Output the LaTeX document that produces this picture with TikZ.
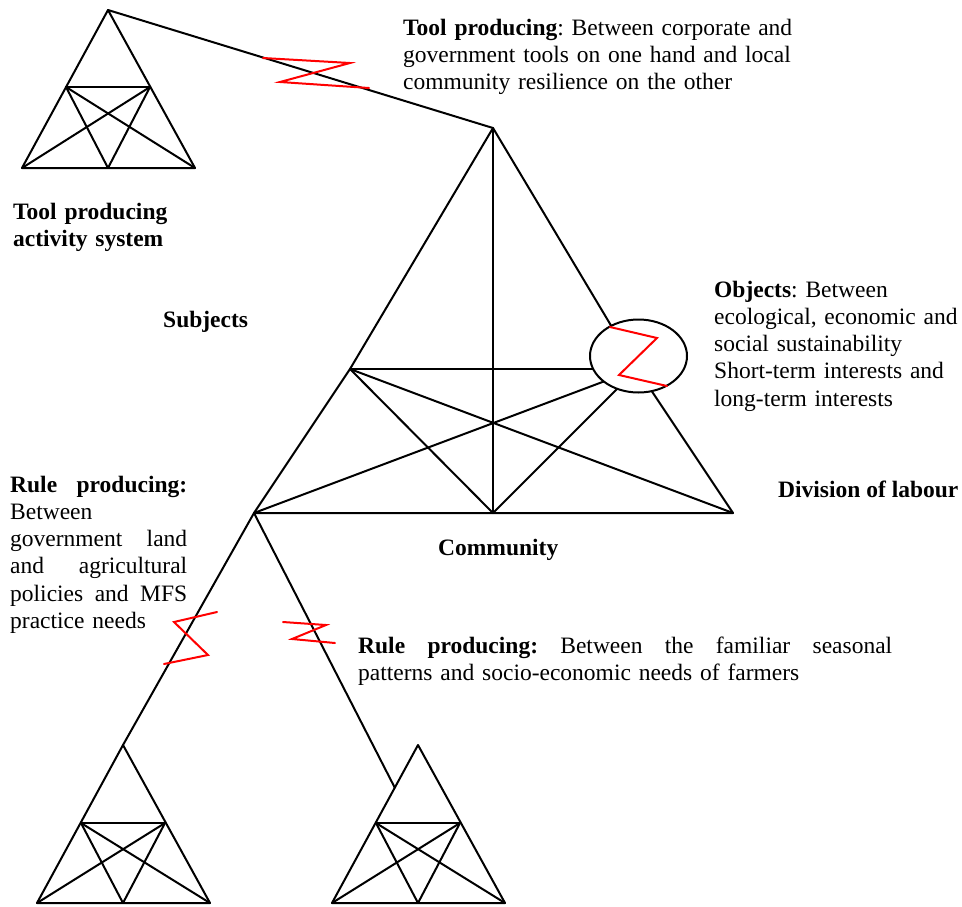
\documentclass[tikz,border=0pt]{standalone}
\usepackage{fontspec}
\setmainfont{Liberation Serif}
\usepackage{tkz-euclide}
\usetikzlibrary{calc}

\tikzset{
  lbl/.style={inner sep=0pt,anchor=base west,align=left,
    font=\fontsize{23.5}{27.3}\selectfont\frenchspacing},
  edge/.style={color=black,line width=2pt,line join=round},
  zig/.style={color=red,line width=2pt}
}

\begin{document}
\begin{tikzpicture}[x=1pt,y=-1pt]
\useasboundingbox (0,0) rectangle (962,906);

% central activity system
\tkzDefPoints{493/128/Ma,254/513/Ml,733/513/Mr,493/513/Mm,350/369/Mp,637/369/Mq}
\tkzDrawPolygon[edge](Ma,Mq,Mr,Ml,Mp)
\tkzDrawSegments[edge](Mp,Mq Ma,Mm Mp,Mr Mq,Ml Mp,Mm Mq,Mm)

% tool producing system
\tkzDefPoints{108/10/Ta,22/168/Tl,195/168/Tr,108/168/Tm,66/87/Tp,150/87/Tq}
\tkzDrawPolygon[edge](Ta,Tr,Tl)
\tkzDrawSegments[edge](Tp,Tq Tp,Tr Tq,Tl Tp,Tm Tq,Tm)

% rule producing systems
\tkzDefPoints{123/745/La,37/903/Ll,210/903/Lr,123/903/Lm,81/823/Lp,165/823/Lq}
\tkzDrawPolygon[edge](La,Lr,Ll)
\tkzDrawSegments[edge](Lp,Lq Lp,Lr Lq,Ll Lp,Lm Lq,Lm)

\tkzDefPoints{418/745/Ra,332/903/Rl,505/903/Rr,418/903/Rm,376/823/Rp,460/823/Rq}
\tkzDrawPolygon[edge](Ra,Rr,Rl)
\tkzDrawSegments[edge](Rp,Rq Rp,Rr Rq,Rl Rp,Rm Rq,Rm)

% links between the systems
\coordinate (Rk) at ($(Ra)!.27!(Rl)$);
\tkzDrawSegments[edge](Ta,Ma Ml,La Ml,Rk)

% objects
\tkzDefPoint(638.5,356){O}
\draw[edge,fill=white] (O) ellipse (48.5 and 36.5);

% contradictions
\tkzDefPoints{263/58/z1,350/63/z2,280/82/z3,369/88/z4}
\tkzDrawPolySeg[zig](z1,z2,z3,z4)
\tkzDefPoints{610/327/o1,657/338/o2,619/375/o3,667/386/o4}
\tkzDrawPolySeg[zig](o1,o2,o3,o4)
\tkzDefPoints{217/612/r1,174/622/r2,208/655/r3,164/664/r4}
\tkzDrawPolySeg[zig](r1,r2,r3,r4)
\tkzDefPoints{283/622/s1,326/625/s2,292/639/s3,335/643/s4}
\tkzDrawPolySeg[zig](s1,s2,s3,s4)

\node[lbl,text width=420pt] (toolTxt) at (403,35) {\textbf{Tool producing}: Between corporate and\\
  government tools on one hand and local\\community resilience on the other};
\node[lbl,text width=220pt] (toolSys) at (13,219) {\textbf{Tool producing}\\\textbf{activity system}};
\node[lbl] (subj) at (163,327) {\textbf{Subjects}};
\node[lbl,text width=248pt] (objTxt) at (714,297) {\textbf{Objects}: Between\\ecological, economic and\\
  social sustainability\\Short-term interests and\\long-term interests};
\node[lbl] (divLab) at (778,497) {\textbf{Division of labour}};
\node[lbl] (comm) at (438,555) {\textbf{Community}};
\node[lbl,text width=177pt] (ruleA) at (10,492) {\textbf{Rule\hfill producing:}\\
  Between\\government\hfill land\\and\hfill agricultural\\
  policies\hfill and\hfill MFS\\practice needs};
\node[lbl,text width=534pt] (ruleB) at (358,653) {\textbf{Rule\hfill producing:}\hfill
  Between\hfill the\hfill familiar\hfill seasonal\\
  patterns and socio-economic needs of farmers};
\end{tikzpicture}
\end{document}
